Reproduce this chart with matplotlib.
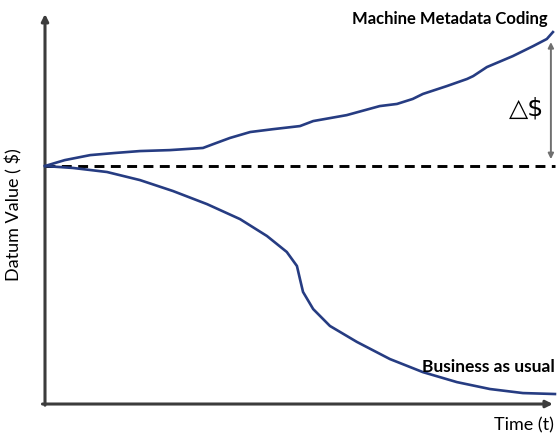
import numpy as np
import matplotlib
matplotlib.use("Agg")
import matplotlib.pyplot as plt

plt.rcParams['font.family'] = ['Lato', 'DejaVu Sans']

# time axis (arbitrary units) and datum value (baseline = 100)
t_meta = [0, 2.0, 3.9, 8.9, 13.8, 18.7, 24.6, 31.1, 32.1, 33.1, 36.4, 40.4, 44.9,
          50.2, 52.8, 59.4, 65.9, 69.3, 72.4, 74.4, 79.1, 83.1, 84.3, 87.0, 92.1,
          96.1, 98.8, 100]
v_meta = [100, 101.3, 102.5, 104.6, 105.5, 106.3, 106.7, 107.6, 108.4, 109.2,
          111.8, 114.3, 115.5, 116.8, 118.9, 121.4, 125.2, 126.1, 128.2, 130.3,
          133.6, 136.6, 137.8, 141.6, 146.2, 150.4, 153.4, 156.3]

t_bau = [0, 5.5, 12.2, 18.7, 25.2, 31.9, 38.4, 43.7, 47.6, 49.6, 50.2, 50.8,
         52.8, 56.1, 61.4, 67.9, 74.4, 81.1, 87.6, 94.1, 100.4]
v_bau = [100, 99.2, 97.5, 94.1, 89.5, 84.0, 77.7, 70.6, 63.9, 58.0, 52.5, 47.1,
         39.9, 32.8, 26.1, 18.9, 13.4, 9.2, 6.3, 4.6, 4.2]

baseline = 100
line_col = '#263c82'
axis_col = '#3c3c3c'

fig = plt.figure(figsize=(5.58, 4.35), dpi=100)
ax = fig.add_axes([0, 0, 1, 1])
ax.set_xlim(-8.86, 101.0)
ax.set_ylim(-12.6, 170.2)
ax.axis('off')

# axes with arrows
ax.annotate('', xy=(0, 163.9), xytext=(0, -0.5),
            arrowprops=dict(arrowstyle='-|>', color=axis_col, lw=2.2,
                            mutation_scale=10, shrinkA=0, shrinkB=0))
ax.annotate('', xy=(100, 0), xytext=(-0.5, 0),
            arrowprops=dict(arrowstyle='-|>', color=axis_col, lw=2.2,
                            mutation_scale=10, shrinkA=0, shrinkB=0))

# dashed datum line
ax.plot([0, 100.4], [baseline, baseline], color='black', lw=2.1,
        dashes=(3.4, 2.2), zorder=2)

ax.plot(t_meta, v_meta, color=line_col, lw=1.9, zorder=3, solid_joinstyle='round')
ax.plot(t_bau, v_bau, color=line_col, lw=1.9, zorder=3, solid_joinstyle='round')

# delta arrow
ax.annotate('', xy=(99.6, 152.1), xytext=(99.6, 102.9),
            arrowprops=dict(arrowstyle='<|-|>', color='#707070', lw=1.4,
                            mutation_scale=8, shrinkA=0, shrinkB=0))
ax.text(94.9, 124.8, '\u25b3$', fontsize=18, ha='center', va='center',
        family=['DejaVu Sans'], color='black')

ax.text(79.7, 162.4, 'Machine Metadata Coding', fontsize=12, fontweight='bold',
        ha='center', va='center')
ax.text(87.2, 16.0, 'Business as usual', fontsize=12.5, fontweight='bold',
        ha='center', va='center')
ax.text(94.3, -8.4, 'Time (t)', fontsize=13, ha='center', va='center')
ax.text(-6.1, 79.8, 'Datum Value ( $)', fontsize=13, rotation=90,
        ha='center', va='center')

fig.savefig('out.png', dpi=100)
